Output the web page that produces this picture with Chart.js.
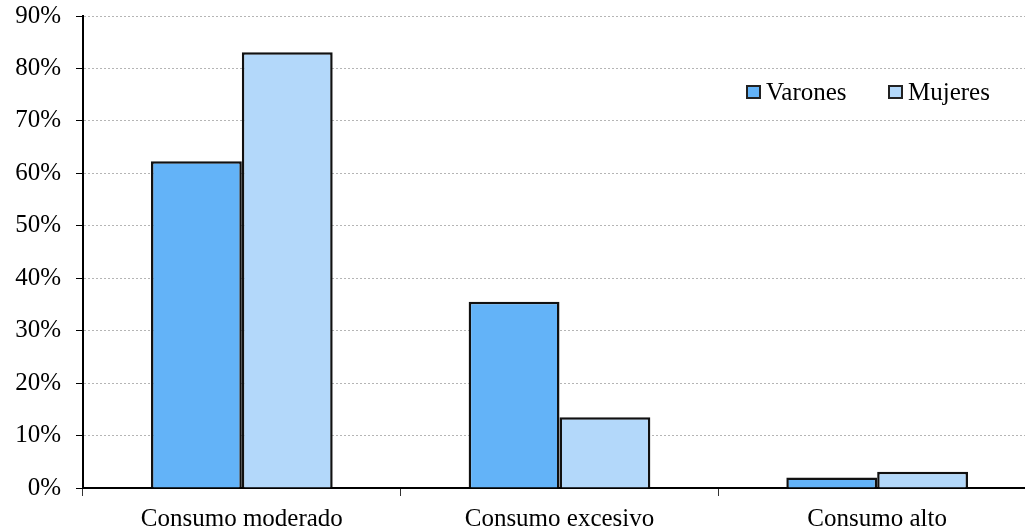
<!DOCTYPE html>
<html>
<head>
<meta charset="utf-8">
<script src="https://cdn.jsdelivr.net/npm/chart.js@4/dist/chart.umd.min.js"></script>
<style>
  html, body { margin: 0; padding: 0; background: #fff; overflow: hidden; }
  #wrap { width: 1036px; height: 532px; position: relative; }
</style>
</head>
<body>
<div id="wrap"><canvas id="chart"></canvas></div>
<script>
// categories and values (% of each group)
var categories = ["Consumo moderado", "Consumo excesivo", "Consumo alto"];
var varones = [62.3, 35.5, 2.0];
var mujeres = [83.1, 13.5, 3.1];
var yTicks = [0, 10, 20, 30, 40, 50, 60, 70, 80, 90];

var FONT = "'Liberation Serif', 'Times New Roman', serif";

/* small legend drawn inside the plot, top right */
var insideLegend = {
    id: "insideLegend",
    afterDraw: function (chart) {
        var ctx = chart.ctx;
        var xs = [747, 889];
        var y = 92;
        ctx.save();
        ctx.font = "25px " + FONT;
        ctx.textBaseline = "middle";
        chart.data.datasets.forEach(function (ds, i) {
            ctx.fillStyle = ds.backgroundColor;
            ctx.fillRect(xs[i], y - 6, 13, 12);
            ctx.lineWidth = 2;
            ctx.strokeStyle = "#222";
            ctx.strokeRect(xs[i], y - 6, 13, 12);
            ctx.fillStyle = "#000";
            ctx.fillText(ds.label, xs[i] + 19, y + 1);
        });
        ctx.restore();
    }
};

new Chart(document.getElementById("chart"), {
    type: "bar",
    data: {
        labels: categories,
        datasets: [
            {label: "Varones", data: varones, backgroundColor: "#63b3f8", borderColor: "#111", borderWidth: 2.5},
            {label: "Mujeres", data: mujeres, backgroundColor: "#b3d8fa", borderColor: "#111", borderWidth: 2.5}
        ]
    },
    options: {
        responsive: true,
        maintainAspectRatio: false,
        animation: false,
        layout: {padding: {top: 16, right: 0, left: 0, bottom: 0}},
        datasets: {bar: {categoryPercentage: 0.572, barPercentage: 1.0}},
        plugins: {legend: {display: false}, tooltip: {enabled: false}},
        scales: {
            x: {
                afterFit: function (axis) {
                    axis.height = 44;
                    axis.paddingLeft = 0;
                    axis.paddingRight = 0;
                },
                grid: {display: true, drawOnChartArea: false, tickLength: 8, tickColor: "#333", tickWidth: 1},
                border: {color: "#000", width: 2},
                ticks: {color: "#000", font: {family: FONT, size: 25}, padding: 8}
            },
            y: {
                min: 0,
                max: 90,
                afterBuildTicks: function (axis) {
                    axis.ticks = yTicks.map(function (v) { return {value: v}; });
                },
                afterFit: function (axis) {
                    axis.width = 83;
                    axis.paddingTop = 0;
                    axis.paddingBottom = 0;
                },
                grid: {color: "#b5b5b5", lineWidth: 1, tickLength: 7, tickColor: "#000", tickWidth: 1, tickBorderDash: []},
                border: {color: "#000", width: 2, dash: [2, 2]},
                ticks: {
                    color: "#000",
                    font: {family: FONT, size: 25},
                    padding: 15,
                    callback: function (v) { return v + "%"; }
                }
            }
        }
    },
    plugins: [insideLegend]
});
</script>
</body>
</html>
